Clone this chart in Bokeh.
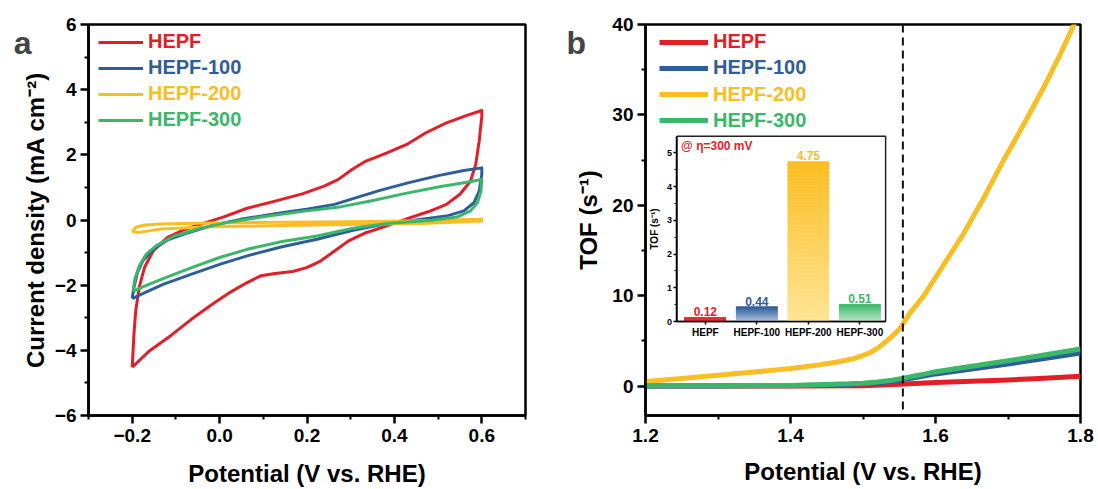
import numpy as np
from bokeh.plotting import figure
from bokeh.models import (Range1d, LinearAxis, FixedTicker, Legend, LegendItem,
                          Span, Label, ColumnDataSource)
from bokeh.layouts import row
from bokeh.embed import file_html
from bokeh.resources import INLINE
from bokeh.core.properties import value

# ---------------- data ----------------
SERIES = ["HEPF", "HEPF-100", "HEPF-200", "HEPF-300"]

# panel a : cyclic voltammograms (potential V vs RHE, current density mA cm-2)
cv_x_hepf = [-0.200, -0.196, -0.192, -0.184, -0.172, -0.152, -0.120, -0.080, -0.032, 0.008, 0.063, 0.127,
             0.191, 0.239, 0.271, 0.303, 0.335, 0.383, 0.431, 0.471, 0.519, 0.566, 0.600,
             0.600, 0.594, 0.586, 0.574, 0.550, 0.519, 0.479, 0.431, 0.383, 0.335, 0.295, 0.263,
             0.231, 0.199, 0.167, 0.127, 0.095, 0.063, 0.024, -0.016, -0.064, -0.112, -0.160, -0.200]
cv_j_hepf = [-4.52, -3.50, -2.79, -2.07, -1.46, -0.95, -0.54, -0.29, -0.08, 0.09, 0.36, 0.58,
             0.81, 1.04, 1.24, 1.55, 1.81, 2.06, 2.34, 2.67, 2.98, 3.21, 3.36,
             3.18, 2.42, 1.70, 1.19, 0.79, 0.48, 0.26, 0.05, -0.18, -0.39, -0.64, -0.95,
             -1.26, -1.46, -1.58, -1.64, -1.71, -1.92, -2.22, -2.58, -3.04, -3.55, -4.01, -4.52]

cv_x_100 = [-0.200, -0.196, -0.188, -0.176, -0.152, -0.120, -0.072, -0.016, 0.048, 0.127, 0.199, 0.263,
            0.311, 0.367, 0.431, 0.503, 0.559, 0.600,
            0.600, 0.594, 0.582, 0.559, 0.519, 0.463, 0.383, 0.303, 0.223, 0.143, 0.063, 0.000,
            -0.064, -0.128, -0.176, -0.200]
cv_j_100 = [-2.41, -2.07, -1.61, -1.26, -0.90, -0.62, -0.39, -0.16, 0.02, 0.19, 0.33, 0.48,
            0.68, 0.91, 1.14, 1.37, 1.52, 1.60,
            1.40, 0.89, 0.53, 0.28, 0.12, 0.02, -0.11, -0.32, -0.59, -0.82, -1.10, -1.36,
            -1.66, -1.97, -2.26, -2.41]

cv_x_200 = [-0.200, -0.192, -0.176, -0.136, -0.016, 0.143, 0.303, 0.463, 0.600,
            0.600, 0.463, 0.303, 0.143, -0.016, -0.136, -0.184, -0.200]
cv_j_200 = [-0.36, -0.23, -0.16, -0.12, -0.09, -0.07, -0.05, -0.02, 0.02,
            -0.03, -0.11, -0.14, -0.17, -0.21, -0.28, -0.38, -0.36]

cv_x_300 = [-0.198, -0.194, -0.184, -0.168, -0.144, -0.104, -0.048, 0.016, 0.095, 0.199, 0.279, 0.351,
            0.423, 0.503, 0.559, 0.600,
            0.598, 0.590, 0.574, 0.543, 0.487, 0.383, 0.303, 0.223, 0.143, 0.063, 0.000,
            -0.064, -0.128, -0.176, -0.198]
cv_j_300 = [-2.19, -1.82, -1.41, -1.05, -0.78, -0.49, -0.27, -0.08, 0.09, 0.28, 0.41, 0.60,
            0.81, 1.02, 1.14, 1.24,
            0.89, 0.53, 0.28, 0.09, -0.01, -0.11, -0.26, -0.49, -0.66, -0.90, -1.15,
            -1.46, -1.79, -2.05, -2.19]

# panel b : TOF vs potential
tof_x_hepf = [1.20, 1.30, 1.40, 1.50, 1.55, 1.60, 1.65, 1.70, 1.75, 1.80]
tof_hepf = [0.00, 0.00, 0.01, 0.05, 0.20, 0.40, 0.55, 0.68, 0.88, 1.10]

tof_x_100 = [1.20, 1.30, 1.40, 1.48, 1.50, 1.52, 1.54, 1.556, 1.58, 1.60, 1.65, 1.70, 1.75, 1.80]
tof_100 = [0.00, 0.02, 0.05, 0.18, 0.25, 0.35, 0.50, 0.73, 1.05, 1.35, 1.90, 2.45, 3.05, 3.66]

tof_x_200 = [1.20, 1.25, 1.30, 1.35, 1.40, 1.44, 1.47, 1.49, 1.51, 1.52, 1.53, 1.54, 1.55, 1.556,
             1.565, 1.584, 1.611, 1.639, 1.667, 1.694, 1.722, 1.749, 1.772, 1.790, 1.800]
tof_200 = [0.50, 0.85, 1.20, 1.55, 1.95, 2.35, 2.75, 3.10, 3.70, 4.20, 4.80, 5.50, 6.30, 7.00,
           8.10, 10.0, 13.4, 16.9, 20.9, 25.0, 29.0, 33.0, 36.7, 39.8, 41.5]

tof_x_300 = [1.20, 1.30, 1.40, 1.48, 1.50, 1.52, 1.54, 1.556, 1.58, 1.60, 1.65, 1.70, 1.75, 1.80]
tof_300 = [0.05, 0.05, 0.08, 0.25, 0.33, 0.45, 0.65, 0.88, 1.25, 1.60, 2.20, 2.80, 3.45, 4.10]

ETA_300_POTENTIAL = 1.555

# inset : TOF @ eta = 300 mV
inset_categories = SERIES
inset_tof = [0.12, 0.44, 4.75, 0.51]

# tick labels
a_xticks = [-0.2, 0.0, 0.2, 0.4, 0.6]
a_xlabels = ["\u22120.2", "0.0", "0.2", "0.4", "0.6"]
a_yticks = [-6, -4, -2, 0, 2, 4, 6]
a_ylabels = ["\u22126", "\u22124", "\u22122", "0", "2", "4", "6"]
b_xticks = [1.2, 1.4, 1.6, 1.8]
b_xlabels = ["1.2", "1.4", "1.6", "1.8"]
b_yticks = [0, 10, 20, 30, 40]
b_ylabels = ["0", "10", "20", "30", "40"]
i_yticks = [0, 1, 2, 3, 4, 5]
i_ylabels = ["0", "1", "2", "3", "4", "5"]

# ---------------- style ----------------
FONT = "Liberation Sans"
COLORS = ["#E41E26", "#2F5D9A", "#F8BE24", "#3BB76A"]
BAR_TOP = ["#E8353A", "#2F5D9A", "#FBBD1E", "#3BB76A"]
BAR_BOTTOM = ["#E8353A", "#B3C7E2", "#FFE496", "#BDE8CB"]


def style_axis(ax, ticks, labels, minors, tick_size="19px", title_size="24px",
               tick_out=8, minor_out=4, width=2.5, standoff=5, title_standoff=8):
    ax.ticker = FixedTicker(ticks=ticks, minor_ticks=minors)
    ax.major_label_overrides = dict(zip(ticks, labels))
    ax.axis_line_width = width
    ax.major_tick_line_width = width
    ax.minor_tick_line_width = width * 0.8
    ax.major_tick_out = tick_out
    ax.major_tick_in = 0
    ax.minor_tick_out = minor_out
    ax.minor_tick_in = 0
    ax.major_label_text_font = FONT
    ax.major_label_text_font_style = "bold"
    ax.major_label_text_font_size = tick_size
    ax.major_label_text_color = "black"
    ax.major_label_standoff = standoff
    ax.axis_label_text_font = FONT
    ax.axis_label_text_font_style = "bold"
    ax.axis_label_text_font_size = title_size
    ax.axis_label_text_color = "black"
    ax.axis_label_standoff = title_standoff


def base_fig(xr, yr, left, right, top, bottom):
    p = figure(width=549, height=489, x_range=xr, y_range=yr, title=None,
               output_backend="svg", toolbar_location=None,
               min_border_left=left, min_border_right=right,
               min_border_top=top, min_border_bottom=bottom)
    p.grid.visible = False
    p.outline_line_color = "black"
    p.outline_line_width = 2.5
    p.outline_line_alpha = 1.0
    p.background_fill_color = "white"
    p.border_fill_color = "white"
    return p


def add_legends(p, renderers, x0, y_top, dy, glyph_w, standoff):
    for i, (name, r, c) in enumerate(zip(SERIES, renderers, COLORS)):
        lg = Legend(items=[LegendItem(label=name, renderers=[r])],
                    location=(x0, y_top - i * dy),
                    glyph_width=glyph_w, glyph_height=20, label_height=20,
                    label_standoff=standoff, padding=0, margin=0, spacing=0,
                    border_line_color=None, background_fill_alpha=0,
                    label_text_font=FONT, label_text_font_style="bold",
                    label_text_font_size="20px", label_text_color=c)
        p.add_layout(lg)


def panel_letter(p, letter, px_left, px_from_top, frame_w, frame_h):
    # pixel offsets from the frame's top-left corner, turned into the plot's own coordinates;
    # the label lives in the left side panel so it is not clipped to the frame
    xr, yr = p.x_range, p.y_range
    x = xr.start + px_left * (xr.end - xr.start) / frame_w
    y = yr.end - px_from_top * (yr.end - yr.start) / frame_h
    p.add_layout(Label(x=x, y=y, text=letter, text_font=FONT, text_font_style="bold",
                       text_font_size="32px", text_baseline="alphabetic"), "left")


# ---------------- panel a ----------------
pa = base_fig(Range1d(-0.3, 0.7), Range1d(-6, 6), 86, 24, 24, 74)
style_axis(pa.xaxis[0], a_xticks, a_xlabels, [-0.3, -0.1, 0.1, 0.3, 0.5, 0.7], standoff=5, title_standoff=15)
style_axis(pa.yaxis[0], a_yticks, a_ylabels, [-5, -3, -1, 1, 3, 5], standoff=4, title_standoff=3)
pa.xaxis[0].axis_label = "Potential (V vs. RHE)"
pa.yaxis[0].axis_label = "Current density (mA cm\u207B\u00B2)"

ra = []
for xs, ys, c in zip([cv_x_hepf, cv_x_100, cv_x_200, cv_x_300],
                     [cv_j_hepf, cv_j_100, cv_j_200, cv_j_300], COLORS):
    ra.append(pa.line(xs, ys, line_color=c, line_width=3, line_join="round"))
add_legends(pa, ra, 10, 362, 26, 45, 5)
panel_letter(pa, "a", -75, 18, 439, 391)

# ---------------- panel b ----------------
pb = base_fig(Range1d(1.2, 1.8), Range1d(-3.25, 40), 96, 18, 23, 72)
style_axis(pb.xaxis[0], b_xticks, b_xlabels, [1.3, 1.5, 1.7], standoff=5, title_standoff=13)
style_axis(pb.yaxis[0], b_yticks, b_ylabels, [5, 15, 25, 35], standoff=4, title_standoff=7)
pb.xaxis[0].axis_label = "Potential (V vs. RHE)"
pb.yaxis[0].axis_label = "TOF (s\u207B\u00B9)"

rb = []
for xs, ys, c in zip([tof_x_hepf, tof_x_100, tof_x_200, tof_x_300],
                     [tof_hepf, tof_100, tof_200, tof_300], COLORS):
    rb.append(pb.line(xs, ys, line_color=c, line_width=5, line_join="round"))
add_legends(pb, rb, 14, 362, 26.3, 49, 5)
pb.add_layout(Span(location=ETA_300_POTENTIAL, dimension="height", line_color="#111111",
                   line_width=2, line_dash="8 5"))
panel_letter(pb, "b", -79, 19, 435, 394)

# ---------------- inset (own ranges mapped onto a sub-box of panel b's frame) ----------------
IX0, IX1 = -0.55, 3.5          # inset data box
IY0, IY1 = 0.0, 5.5
FX0, FX1 = 0.0724, 0.552       # inset box as fractions of the frame
FY0, FY1 = 0.2404, 0.7145
sx = (IX1 - IX0) / (FX1 - FX0)
sy = (IY1 - IY0) / (FY1 - FY0)
pb.extra_x_ranges = {"ix": Range1d(IX0 - FX0 * sx, IX0 + (1 - FX0) * sx)}
pb.extra_y_ranges = {"iy": Range1d(IY0 - FY0 * sy, IY0 + (1 - FY0) * sy)}

pb.quad(left=[IX0], right=[IX1], bottom=[IY0], top=[IY1], fill_color="white",
        line_color="#222222", line_width=1.5, x_range_name="ix", y_range_name="iy")


def mix(c1, c2, t):
    a = [int(c1[i:i + 2], 16) for i in (1, 3, 5)]
    b = [int(c2[i:i + 2], 16) for i in (1, 3, 5)]
    return "#%02x%02x%02x" % tuple(int(round(a[k] + (b[k] - a[k]) * t)) for k in range(3))


N = 40
bx, bb, bt, bc = [], [], [], []
for i, v in enumerate(inset_tof):
    for k in range(N):
        bx.append(i)
        bb.append(v * k / N)
        bt.append(v * (k + 1) / N)
        bc.append(mix(BAR_BOTTOM[i], BAR_TOP[i], (k + 0.5) / N))
bar_src = ColumnDataSource(dict(x=bx, bottom=bb, top=bt, color=bc))
pb.vbar(x="x", bottom="bottom", top="top", width=0.8, fill_color="color",
        line_color="color", line_width=0.5, source=bar_src,
        x_range_name="ix", y_range_name="iy")

pb.text(x=list(range(len(inset_tof))), y=inset_tof, text=["%.2f" % v for v in inset_tof],
        text_color=COLORS, text_font=value(FONT), text_font_style="bold",
        text_font_size="12px", text_align="center", text_baseline="bottom",
        y_offset=-1, x_range_name="ix", y_range_name="iy")

pb.add_layout(Label(x=-0.47, y=5.21, x_range_name="ix", y_range_name="iy",
                    text="@ \u03B7=300 mV", text_color=COLORS[0], text_font=FONT,
                    text_font_style="bold", text_font_size="12px", text_baseline="middle"))

iy_axis = LinearAxis(x_range_name="ix", y_range_name="iy", fixed_location=IX0, bounds=(IY0, IY1))
style_axis(iy_axis, i_yticks, i_ylabels, [0.5, 1.5, 2.5, 3.5, 4.5], tick_size="9px",
           title_size="10px", tick_out=3, minor_out=2, width=1.5, standoff=2, title_standoff=3)
iy_axis.axis_label = "TOF (s\u207B\u00B9)"
pb.add_layout(iy_axis, "left")

ix_axis = LinearAxis(x_range_name="ix", y_range_name="iy", fixed_location=IY0, bounds=(IX0, IX1))
style_axis(ix_axis, list(range(len(inset_categories))), inset_categories, [], tick_size="10px",
           title_size="10px", tick_out=3, minor_out=0, width=1.5, standoff=2, title_standoff=2)
pb.add_layout(ix_axis, "below")

layout = row(pa, pb, spacing=0)
open("out.html", "w").write(file_html(layout, INLINE))
